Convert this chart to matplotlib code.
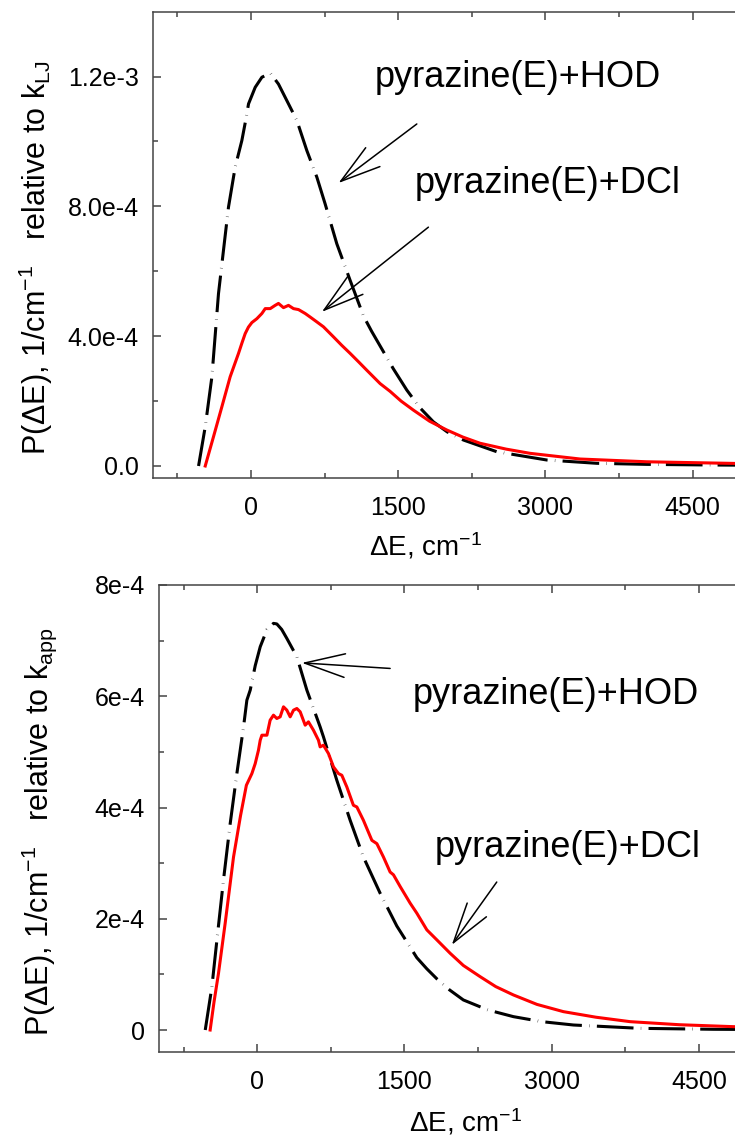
import matplotlib
matplotlib.use("Agg")
import matplotlib.pyplot as plt

plt.rcParams["font.family"] = ["Liberation Sans", "DejaVu Sans"]
plt.rcParams["mathtext.fontset"] = "custom"
plt.rcParams["mathtext.rm"] = "Liberation Sans"
plt.rcParams["mathtext.it"] = "Liberation Sans"
plt.rcParams["mathtext.default"] = "regular"

# --- data ---
# upper panel (relative to k_LJ)
top_hod_de = [-533, -465, -397, -330, -279, -228, -160, -92, -50, -24, 44, 112, 179, 200,
              281, 383, 468, 570, 672, 756, 875, 1011, 1147, 1230, 1316, 1450, 1588, 1720,
              1859, 2000, 2165, 2504, 3013, 3523, 4032, 4710, 5000]
top_hod_p = [0.0, 1.21e-4, 2.75e-4, 5.31e-4, 6.65e-4, 7.98e-4, 9.21e-4, 1.003e-3, 1.07e-3,
             1.116e-3, 1.167e-3, 1.198e-3, 1.208e-3, 1.21e-3, 1.177e-3, 1.116e-3, 1.065e-3,
             9.72e-4, 8.9e-4, 8.08e-4, 6.85e-4, 5.72e-4, 4.62e-4, 4.15e-4, 3.7e-4, 3.0e-4,
             2.34e-4, 1.8e-4, 1.36e-4, 1.05e-4, 8.0e-5, 4.4e-5, 1.85e-5, 8.3e-6, 5e-6, 3e-6,
             2.5e-6]

top_dcl_de = [-465, -381, -296, -211, -126, -90, -58, -25, 10, 61, 112, 146, 197, 247, 281,
              332, 383, 434, 485, 553, 604, 672, 739, 841, 925, 1011, 1100, 1181, 1316, 1418,
              1530, 1656, 1820, 1995, 2160, 2335, 2600, 2844, 3353, 4032, 4913, 5000]
top_dcl_p = [0.0, 9.0e-5, 1.82e-4, 2.75e-4, 3.47e-4, 3.8e-4, 4.08e-4, 4.28e-4, 4.42e-4,
             4.54e-4, 4.70e-4, 4.85e-4, 4.85e-4, 4.95e-4, 5.01e-4, 4.88e-4, 4.95e-4, 4.85e-4,
             4.82e-4, 4.70e-4, 4.59e-4, 4.44e-4, 4.29e-4, 3.98e-4, 3.72e-4, 3.47e-4, 3.2e-4,
             2.95e-4, 2.54e-4, 2.3e-4, 2.0e-4, 1.72e-4, 1.38e-4, 1.11e-4, 8.9e-5, 7.0e-5,
             5.2e-5, 3.9e-5, 2.15e-5, 1.3e-5, 8e-6, 7.5e-6]

# lower panel (relative to k_app)
bot_hod_de = [-529, -461, -410, -343, -275, -207, -139, -105, -71, -20, 31, 100, 166, 200,
              250, 302, 404, 506, 641, 675, 811, 947, 1082, 1252, 1422, 1626, 1728, 1830,
              1960, 2100, 2350, 2610, 2900, 3221, 3899, 4646, 5000]
bot_hod_p = [0.0, 7.8e-5, 1.62e-4, 2.7e-4, 3.71e-4, 4.61e-4, 5.45e-4, 5.93e-4, 6.11e-4,
             6.55e-4, 6.89e-4, 7.2e-4, 7.31e-4, 7.3e-4, 7.2e-4, 7.04e-4, 6.71e-4, 6.11e-4,
             5.45e-4, 5.27e-4, 4.49e-4, 3.77e-4, 3.11e-4, 2.46e-4, 1.87e-4, 1.3e-4, 1.1e-4,
             9.2e-5, 7.2e-5, 5.4e-5, 3.6e-5, 2.4e-5, 1.5e-5, 9e-6, 3e-6, 1.3e-6, 1e-6]

bot_dcl_de = [-479, -440, -394, -326, -241, -170, -110, -54, -20, 13, 31, 48, 99, 132, 166,
              200, 234, 268, 302, 336, 370, 404, 438, 489, 522, 573, 624, 641, 675, 726, 777,
              828, 862, 913, 980, 1015, 1082, 1168, 1219, 1286, 1354, 1388, 1456, 1558, 1626,
              1728, 1830, 1965, 2100, 2270, 2430, 2610, 2850, 3119, 3450, 3798, 4300, 4850,
              5000]
bot_dcl_p = [0.0, 5.0e-5, 1.02e-4, 1.92e-4, 3.11e-4, 3.85e-4, 4.4e-4, 4.61e-4, 4.79e-4,
             5.03e-4, 5.21e-4, 5.30e-4, 5.30e-4, 5.57e-4, 5.66e-4, 5.60e-4, 5.63e-4, 5.81e-4,
             5.75e-4, 5.63e-4, 5.75e-4, 5.78e-4, 5.72e-4, 5.48e-4, 5.54e-4, 5.39e-4, 5.21e-4,
             5.09e-4, 5.12e-4, 4.97e-4, 4.73e-4, 4.61e-4, 4.58e-4, 4.37e-4, 4.04e-4, 4.01e-4,
             3.77e-4, 3.41e-4, 3.35e-4, 3.11e-4, 2.84e-4, 2.79e-4, 2.58e-4, 2.28e-4, 2.10e-4,
             1.80e-4, 1.62e-4, 1.38e-4, 1.16e-4, 9.6e-5, 7.8e-5, 6.3e-5, 4.6e-5, 3.3e-5,
             2.3e-5, 1.5e-5, 9.5e-6, 6e-6, 5.5e-6]

x_ticks = [0, 1500, 3000, 4500]
top_yticks = [0.0, 4e-4, 8e-4, 1.2e-3]
top_ylabels = ["0.0", "4.0e-4", "8.0e-4", "1.2e-3"]
bot_yticks = [0.0, 2e-4, 4e-4, 6e-4, 8e-4]
bot_ylabels = ["0", "2e-4", "4e-4", "6e-4", "8e-4"]

label_hod = "pyrazine(E)+HOD"
label_dcl = "pyrazine(E)+DCl"

W, H = 735, 1145
fig = plt.figure(figsize=(W / 100, H / 100), dpi=100)

spine_col = "#444444"
dash = (12, 2.4, 0.12, 2.4)


def style_axes(ax, yticks, ylabels, ylim, yminor):
    ax.set_xlim(-1000, 5000)
    ax.set_ylim(*ylim)
    ax.set_xticks(x_ticks)
    ax.set_xticks([-750, 750, 2250, 3750], minor=True)
    ax.set_xticklabels([str(v) for v in x_ticks])
    ax.set_yticks(yticks)
    ax.set_yticklabels(ylabels)
    ax.set_yticks(yminor, minor=True)
    ax.spines["right"].set_visible(False)
    for s in ["left", "top", "bottom"]:
        ax.spines[s].set_color(spine_col)
        ax.spines[s].set_linewidth(1.1)
    ax.tick_params(which="both", direction="in", top=True, right=False,
                   color=spine_col, width=1.1, labelsize=18)
    ax.tick_params(which="major", length=6)
    ax.tick_params(which="minor", length=3.5)
    ax.tick_params(axis="x", which="major", pad=13)
    ax.tick_params(axis="y", which="major", pad=10)


def arrow(ax, tail, tip):
    ax.annotate("", xy=tip, xytext=tail,
                arrowprops=dict(arrowstyle="->,head_length=2.9,head_width=0.85",
                                color="black", lw=1.1, shrinkA=0, shrinkB=0,
                                mutation_scale=10))


ylab_top = r"P($\Delta$E), 1/cm$^{-1}$   relative to k$_{LJ}$"
ylab_bot = r"P($\Delta$E), 1/cm$^{-1}$   relative to k$_{app}$"

# ---------- upper panel ----------
ax1 = fig.add_axes([152.7 / W, 1 - 478 / H, 589.1 / W, 466.3 / H])
l, = ax1.plot(top_hod_de, top_hod_p, color="black", lw=2.2)
l.set_dashes(dash)
ax1.plot(top_dcl_de, top_dcl_p, color="red", lw=2.2)
style_axes(ax1, top_yticks, top_ylabels, (-3.7e-5, 1.4e-3),
           [2e-4, 6e-4, 1.0e-3])
ax1.set_xlabel(r"$\Delta$E, cm$^{-1}$", fontsize=20)
ax1.xaxis.set_label_coords((425 - 152.7) / 589.1, -0.114)
ax1.text(1266, 1.169e-3, label_hod, fontsize=26, ha="left", va="baseline")
ax1.text(1672, 8.40e-4, label_dcl, fontsize=26, ha="left", va="baseline")
arrow(ax1, (1690, 1.054e-3), (892, 8.72e-4))
arrow(ax1, (1808, 7.36e-4), (723, 4.75e-4))
fig.text(46 / W, 1 - 258 / H, ylab_top,
         rotation=90, ha="center", va="baseline", rotation_mode="anchor", fontsize=22)

# ---------- lower panel ----------
ax2 = fig.add_axes([159 / W, 1 - 1051.7 / H, 589.1 / W, 466.7 / H])
l, = ax2.plot(bot_hod_de, bot_hod_p, color="black", lw=2.2)
l.set_dashes(dash)
ax2.plot(bot_dcl_de, bot_dcl_p, color="red", lw=2.2)
style_axes(ax2, bot_yticks, bot_ylabels, (-3.9e-5, 8e-4),
           [1e-4, 3e-4, 5e-4, 7e-4])
ax2.set_xlabel(r"$\Delta$E, cm$^{-1}$", fontsize=20)
ax2.xaxis.set_label_coords((465 - 159) / 589.1, -0.118)
ax2.text(1588, 5.86e-4, label_hod, fontsize=26, ha="left", va="baseline")
ax2.text(1812, 3.11e-4, label_dcl, fontsize=26, ha="left", va="baseline")
arrow(ax2, (1354, 6.5e-4), (455, 6.6e-4))
arrow(ax2, (2440, 2.66e-4), (1982, 1.53e-4))
fig.text(48 / W, 1 - 832 / H, ylab_bot,
         rotation=90, ha="center", va="baseline", rotation_mode="anchor", fontsize=22)

fig.savefig("out.png", dpi=100)
